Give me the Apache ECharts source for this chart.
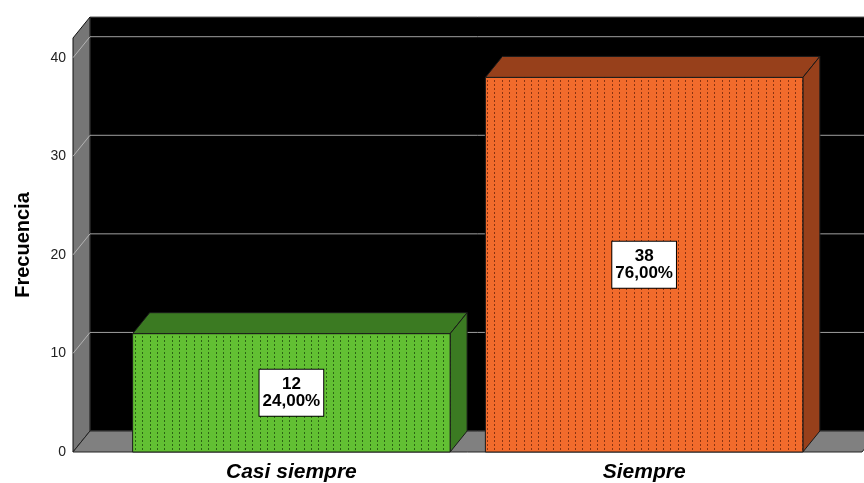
<!DOCTYPE html>
<html>
<head>
<meta charset="utf-8">
<script src="https://cdn.jsdelivr.net/npm/echarts@6/dist/echarts.min.js"></script>
<style>
  html, body { margin: 0; padding: 0; background: #ffffff; }
  #chart { width: 864px; height: 483px; }
</style>
</head>
<body>
<div id="chart"></div>
<script>
// Response categories and their frequencies
const categories = ['Casi siempre', 'Siempre'];
const frequencies = [12, 38];
const yTicks = [0, 10, 20, 30, 40];

// Bar fills: front face, dot pattern, top/side faces
const frontColors = ['#62c033', '#f26b2c'];
const dotColors = ['#2c6414', '#8a3412'];
const shadeColors = ['#3b7a22', '#97401b'];

const total = frequencies.reduce((a, b) => a + b, 0);
const pctLabels = frequencies.map(v =>
  (v / total * 100).toFixed(2).replace('.', ',') + '%');

// 3D depth offset of the scene (pixels)
const DX = 17, DY = -21;

// Dotted vertical-line fill, columns roughly 7.3px apart
function makePattern(base, dot) {
  const c = document.createElement('canvas');
  c.width = 22; c.height = 4;
  const ctx = c.getContext('2d');
  ctx.fillStyle = base;
  ctx.fillRect(0, 0, 22, 4);
  ctx.fillStyle = dot;
  [3, 10, 18].forEach(x => ctx.fillRect(x, 0, 1, 2));
  return { image: c, repeat: 'repeat' };
}
const patterns = frontColors.map((c, i) => makePattern(c, dotColors[i]));

const chart = echarts.init(document.getElementById('chart'), null, { renderer: 'canvas' });

// Walls, floor and grid lines of the 3D box
function renderScene(params, api) {
  const cs = params.coordSys;
  const fl = cs.x - 42;               // front-left edge
  const fr = cs.x + cs.width + 41.5;  // front-right edge
  const y0 = api.coord([0, 0])[1];
  const yTop = cs.y;
  const bl = fl + DX, br = fr + DX;
  const children = [];
  // back panel
  children.push({
    type: 'polygon',
    shape: { points: [[bl, yTop + DY], [br, yTop + DY], [br, y0 + DY], [bl, y0 + DY]] },
    style: { fill: '#000000', stroke: '#5a5a5a', lineWidth: 1 }
  });
  // left wall
  children.push({
    type: 'polygon',
    shape: { points: [[fl, yTop], [bl, yTop + DY], [bl, y0 + DY], [fl, y0]] },
    style: { fill: '#767676', stroke: '#111111', lineWidth: 1 }
  });
  // floor
  children.push({
    type: 'polygon',
    shape: { points: [[fl, y0], [bl, y0 + DY], [br, y0 + DY], [fr, y0]] },
    style: { fill: '#808080', stroke: '#222222', lineWidth: 1 }
  });
  // grid lines on the back panel and left wall
  yTicks.forEach(t => {
    if (t === 0) return;
    const yf = api.coord([0, t])[1];
    children.push({
      type: 'line',
      shape: { x1: bl, y1: yf + DY, x2: br, y2: yf + DY },
      style: { stroke: '#a0a0a0', lineWidth: 1 }
    });
    children.push({
      type: 'line',
      shape: { x1: fl, y1: yf, x2: bl, y2: yf + DY },
      style: { stroke: '#b4b4b4', lineWidth: 1 }
    });
  });
  return { type: 'group', children: children };
}

// 3D bars with value / percentage labels
function renderBar(params, api) {
  const idx = params.dataIndex;
  const val = api.value(1);
  const top = api.coord([idx, val]);
  const base = api.coord([idx, 0]);
  const w = api.size([1, 0])[0] * 0.9;
  const x0 = top[0] - w / 2, x1 = top[0] + w / 2;
  const yT = top[1], yB = base[1];
  const edge = { stroke: '#1a1a1a', lineWidth: 1 };
  return {
    type: 'group',
    children: [
      {
        type: 'polygon',
        shape: { points: [[x0, yT], [x0 + DX, yT + DY], [x1 + DX, yT + DY], [x1, yT]] },
        style: Object.assign({ fill: shadeColors[idx] }, edge)
      },
      {
        type: 'polygon',
        shape: { points: [[x1, yT], [x1 + DX, yT + DY], [x1 + DX, yB + DY], [x1, yB]] },
        style: Object.assign({ fill: shadeColors[idx] }, edge)
      },
      {
        type: 'rect',
        shape: { x: x0, y: yT, width: w, height: yB - yT },
        style: Object.assign({ fill: patterns[idx] }, edge)
      },
      {
        type: 'text',
        x: top[0], y: (yT + yB) / 2,
        style: {
          text: frequencies[idx] + '\n' + pctLabels[idx],
          align: 'center',
          verticalAlign: 'middle',
          fontFamily: 'Liberation Sans, Arial, sans-serif',
          fontWeight: 'bold',
          fontSize: 17,
          lineHeight: 17,
          fill: '#000000',
          backgroundColor: '#ffffff',
          borderColor: '#000000',
          borderWidth: 1,
          padding: [6, 3, 6, 3]
        }
      }
    ]
  };
}

chart.setOption({
  animation: false,
  backgroundColor: '#ffffff',
  grid: { left: 115, right: 43.5, top: 38, bottom: 31, containLabel: false, outerBoundsMode: 'none' },
  xAxis: {
    type: 'category',
    data: categories,
    axisLine: { show: false },
    axisTick: { show: false },
    splitLine: { show: false },
    axisLabel: {
      margin: 10,
      color: '#000000',
      fontFamily: 'Liberation Sans, Arial, sans-serif',
      fontSize: 21,
      fontWeight: 'bold',
      fontStyle: 'italic'
    }
  },
  yAxis: {
    type: 'value',
    min: 0,
    max: 42,
    interval: 10,
    name: 'Frecuencia',
    nameLocation: 'middle',
    nameGap: 82,
    nameMoveOverlap: false,
    nameTextStyle: {
      color: '#000000',
      fontFamily: 'Liberation Sans, Arial, sans-serif',
      fontSize: 20,
      fontWeight: 'bold'
    },
    axisLine: { show: false },
    axisTick: { show: false },
    splitLine: { show: false },
    axisLabel: {
      margin: 49,
      showMaxLabel: false,
      color: '#222222',
      fontFamily: 'Liberation Sans, Arial, sans-serif',
      fontSize: 14,
      formatter: v => (v % 10 === 0 ? String(v) : '')
    }
  },
  series: [
    {
      type: 'custom',
      z: 1,
      silent: true,
      clip: false,
      data: [[0, 0]],
      renderItem: renderScene
    },
    {
      type: 'custom',
      z: 2,
      clip: false,
      data: frequencies.map((v, i) => [i, v]),
      renderItem: renderBar
    }
  ]
});
</script>
</body>
</html>
